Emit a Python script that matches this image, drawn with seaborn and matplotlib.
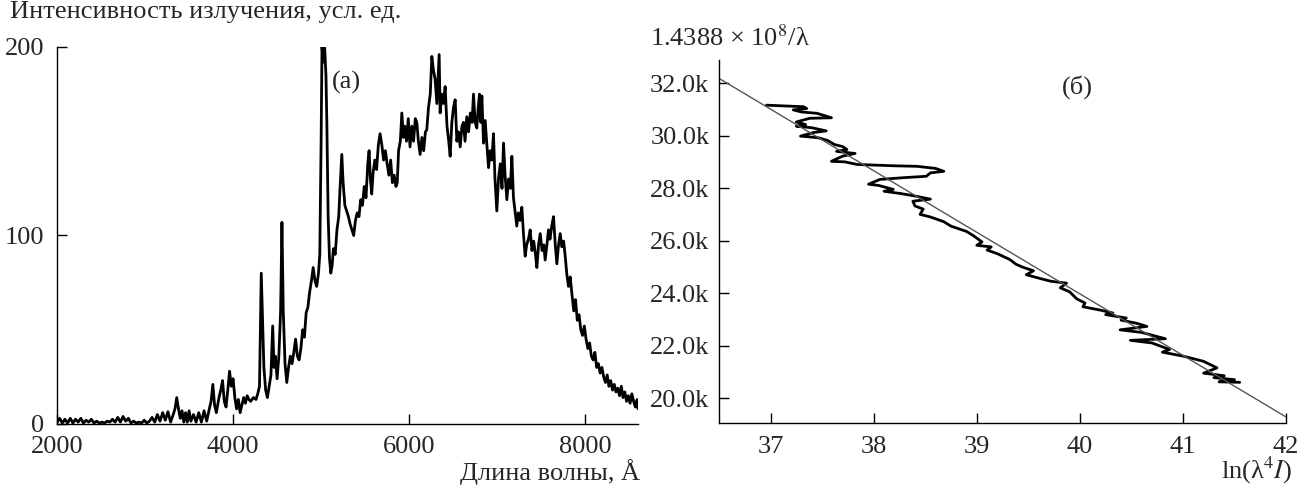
import numpy as np
import pandas as pd
import matplotlib
matplotlib.use("Agg")
import matplotlib.pyplot as plt
from matplotlib.ticker import FuncFormatter
import seaborn as sns

# spectrum
wavelength = [
    2000, 2030, 2060, 2090, 2120, 2150, 2180, 2210, 2240, 2270, 2300, 2330, 2360, 2390, 2420, 2450,
    2480, 2510, 2540, 2570, 2600, 2630, 2660, 2690, 2720, 2750, 2780, 2810, 2840, 2870, 2900, 2930,
    2960, 2990, 3020, 3050, 3080, 3110, 3140, 3170, 3200, 3230, 3260, 3290, 3320, 3340, 3360, 3380,
    3400, 3420, 3440, 3460, 3480, 3500, 3520, 3550, 3580, 3610, 3640, 3670, 3700, 3730, 3750, 3770,
    3790, 3810, 3840, 3860, 3880, 3900, 3920, 3940, 3960, 3980, 4000, 4020, 4040, 4060, 4080, 4100,
    4120, 4140, 4160, 4180, 4200, 4230, 4260, 4280, 4300, 4320, 4335, 4350, 4370, 4390, 4410, 4430,
    4450, 4465, 4480, 4500, 4520, 4540, 4555, 4570, 4590, 4610, 4630, 4650, 4670, 4690, 4710, 4730,
    4750, 4770, 4790, 4810, 4830, 4850, 4870, 4890, 4910, 4930, 4950, 4970, 4985, 5000, 5010, 5025,
    5040, 5055, 5065, 5080, 5095, 5110, 5125, 5140, 5160, 5180, 5200, 5215, 5235, 5250, 5270, 5290,
    5310, 5330, 5350, 5370, 5390, 5410, 5430, 5450, 5470, 5490, 5510, 5530, 5545, 5560, 5575, 5590,
    5610, 5630, 5650, 5670, 5690, 5710, 5730, 5750, 5770, 5790, 5810, 5830, 5850, 5865, 5880, 5900,
    5917, 5935, 5950, 5970, 5990, 6010, 6030, 6050, 6070, 6087, 6105, 6125, 6145, 6165, 6185, 6200,
    6220, 6240, 6258, 6275, 6295, 6315, 6341, 6352, 6370, 6390, 6409, 6430, 6450, 6466, 6485, 6504,
    6523, 6542, 6560, 6580, 6600, 6617, 6635, 6655, 6675, 6695, 6715, 6731, 6750, 6769, 6785, 6799,
    6815, 6826, 6845, 6864, 6880, 6902, 6920, 6940, 6958, 6975, 6996, 7015, 7035, 7055, 7072, 7090,
    7110, 7130, 7150, 7167, 7185, 7205, 7223, 7240, 7260, 7280, 7300, 7318, 7335, 7355, 7375, 7395,
    7415, 7435, 7451, 7470, 7489, 7510, 7530, 7545, 7565, 7583, 7600, 7620, 7640, 7660, 7678, 7697,
    7716, 7735, 7755, 7773, 7790, 7810, 7830, 7849, 7870, 7890, 7910, 7930, 7950, 7970, 7990, 8010,
    8030, 8050, 8070, 8090, 8110, 8130, 8150, 8170, 8190, 8210, 8230, 8250, 8270, 8290, 8310, 8330,
    8350, 8370, 8390, 8410, 8430, 8450, 8470, 8490, 8510, 8530, 8550, 8570, 8590, 8600,
]
intensity = [
    1, 3, 0.5, 2.5, 0.5, 3, 0.5, 2.5, 1, 3, 0.5, 2, 1, 2.5, 0.5, 1.5,
    0.5, 1, 0.5, 1.5, 1, 2.5, 1, 3.5, 1, 4, 1.5, 3, 0.5, 1.5, 0.5, 1,
    0.5, 2, 0.5, 1.5, 3.5, 1, 5, 1.5, 6, 2, 6.5, 1, 5, 8, 14, 8,
    3, 7, 1, 6, 1, 7, 1.5, 5, 1, 6, 1, 7, 1.5, 8, 12, 21,
    10, 6, 14, 18, 23, 12, 9, 18, 28, 20, 24, 14, 8, 13, 6, 10,
    14, 11, 15, 13, 12, 14, 13, 16, 20, 80, 55, 30, 18, 14, 20, 26,
    52, 30, 36, 24, 36, 60, 107, 60, 32, 22, 30, 36, 32, 38, 45, 36,
    34, 40, 50, 46, 59, 62, 70, 76, 83, 76, 73, 80, 90, 150, 200, 192,
    200, 185, 160, 110, 88, 80, 84, 93, 90, 103, 110, 125, 143, 128, 116, 113,
    110, 106, 103, 100, 108, 112, 110, 119, 116, 126, 120, 138, 145, 130, 122, 133,
    140, 135, 148, 154, 148, 140, 145, 138, 132, 140, 128, 132, 126, 128, 145, 150,
    165, 152, 158, 150, 162, 147, 158, 150, 162, 160, 150, 143, 152, 145, 155, 156,
    168, 175, 195, 188, 183, 170, 196, 165, 175, 170, 179, 158, 150, 142, 160, 168,
    172, 150, 155, 147, 158, 160, 150, 163, 155, 165, 160, 175, 160, 157, 168, 175,
    160, 174, 149, 161, 150, 136, 145, 140, 154, 130, 113, 130, 138, 125, 149, 132,
    119, 130, 125, 142, 120, 112, 105, 112, 108, 115, 100, 89, 95, 98, 103, 92,
    97, 90, 83, 95, 101, 92, 95, 87, 95, 103, 98, 105, 110, 95, 85, 95,
    101, 94, 97, 89, 80, 73, 78, 69, 60, 66, 55, 58, 50, 47, 52, 45,
    40, 43, 36, 34, 38, 30, 32, 27, 30, 25, 22, 26, 20, 23, 18, 21,
    17, 19, 15, 20, 14, 17, 12, 15, 11, 16, 12, 9, 13, 8,
]

# panel (b): ln(lambda^4 I) vs 1.4388e8/lambda
ln_l4i = [
    36.96, 37.32, 37.35, 37.22, 37.30, 37.45, 37.59, 37.38, 37.25, 37.34, 37.25, 37.40, 37.54, 37.42,
    37.29, 37.46, 37.55, 37.62, 37.70, 37.74, 37.64, 37.82, 37.70, 37.59, 37.72, 37.84, 38.20, 38.42,
    38.60, 38.68, 38.55, 38.51, 38.30, 38.06, 37.95, 38.05, 38.19, 38.10, 38.25, 38.40, 38.55, 38.38,
    38.40, 38.48, 38.45, 38.55, 38.68, 38.75, 38.90, 38.97, 39.05, 39.00, 39.14, 39.10, 39.20, 39.32,
    39.38, 39.45, 39.55, 39.48, 39.62, 39.72, 39.87, 39.81, 39.90, 39.97, 40.05, 40.03, 40.20, 40.32,
    40.25, 40.45, 40.40, 40.55, 40.65, 40.39, 40.60, 40.83, 40.49, 40.70, 40.87, 40.80, 41.00, 41.10,
    41.20, 41.33, 41.20, 41.40, 41.30, 41.50, 41.35, 41.55,
]
inv_lambda = [
    31160, 31100, 31030, 30980, 30900, 30850, 30680, 30660, 30520, 30420, 30360, 30300, 30180, 30120,
    29980, 29920, 29820, 29660, 29580, 29470, 29400, 29320, 29220, 29020, 29000, 28900, 28850, 28830,
    28750, 28640, 28580, 28450, 28400, 28330, 28150, 28100, 27950, 27880, 27800, 27700, 27580, 27500,
    27320, 27200, 27000, 26900, 26720, 26550, 26350, 26180, 25950, 25820, 25760, 25640, 25500, 25280,
    25100, 24980, 24850, 24700, 24550, 24450, 24380, 24200, 24050, 23780, 23620, 23480, 23350, 23240,
    23180, 23050, 22970, 22850, 22730, 22600, 22500, 22260, 22200, 22100, 21850, 21750, 21600, 21500,
    21400, 21150, 20950, 20850, 20780, 20700, 20620, 20600,
]
fit_x = [36.5, 42.0]
fit_y = [32180, 19280]

sns.set_style("ticks")
plt.rcParams["font.family"] = ["Liberation Serif", "DejaVu Serif"]
plt.rcParams["mathtext.fontset"] = "stix"
fs = 19

spec = pd.DataFrame({"lam": wavelength, "I": intensity})
temp = pd.DataFrame({"x": ln_l4i, "y": inv_lambda})

fig = plt.figure(figsize=(13.05, 4.86), dpi=100)
ax1 = fig.add_axes([0.0437, 0.1276, 0.4452, 0.7757])
ax2 = fig.add_axes([0.551, 0.1296, 0.4345, 0.7469])

sns.lineplot(data=spec, x="lam", y="I", ax=ax1, color="black", lw=2.0,
             estimator=None, sort=False)
ax1.set_xlim(2000, 8600)
ax1.set_ylim(0, 200)
ax1.set_xticks([2000, 4000, 6000, 8000])
ax1.set_yticks([0, 100, 200])
ax1.set_xlabel("")
ax1.set_ylabel("")
ax1.text(5120, 181, "(a)", fontsize=fs, va="center", ha="left")

sns.lineplot(data=temp, x="x", y="y", ax=ax2, color="black", lw=2.0,
             estimator=None, sort=False)
sns.lineplot(x=fit_x, y=fit_y, ax=ax2, color="#555555", lw=1.0)
ax2.set_xlim(36.5, 42)
ax2.set_ylim(19050, 32880)
ax2.set_xticks([37, 38, 39, 40, 41, 42])
ax2.set_yticks(list(range(20000, 32001, 2000)))
ax2.yaxis.set_major_formatter(FuncFormatter(lambda v, p: f"{v / 1000:.1f}k"))
ax2.set_xlabel("")
ax2.set_ylabel("")
ax2.text(39.83, 31860, "(б)", fontsize=fs, va="center", ha="left")

for ax in (ax1, ax2):
    sns.despine(ax=ax)
    for s in ("left", "bottom"):
        ax.spines[s].set_linewidth(1.0)
        ax.spines[s].set_color("black")
    ax.tick_params(direction="in", length=7, width=1.0, color="black",
                   labelsize=fs, pad=7)
    ax.tick_params(axis="x", pad=9)
ax1.tick_params(axis="y", pad=9)

fig.text(10 / 1305, 1 - 12 / 486, "Интенсивность излучения, усл. ед.", fontsize=fs,
         va="center", ha="left")
fig.text(640 / 1305, 1 - 472 / 486, "Длина волны, Å", fontsize=fs,
         va="center", ha="right")
fig.text(650 / 1305, 1 - 38 / 486, "1.4388 × 10$^{8}$/λ", fontsize=fs,
         va="center", ha="left")
fig.text(1292 / 1305, 1 - 470 / 486, "ln(λ$^{4}I$)", fontsize=fs,
         va="center", ha="right")

plt.savefig("out.png", dpi=100)
